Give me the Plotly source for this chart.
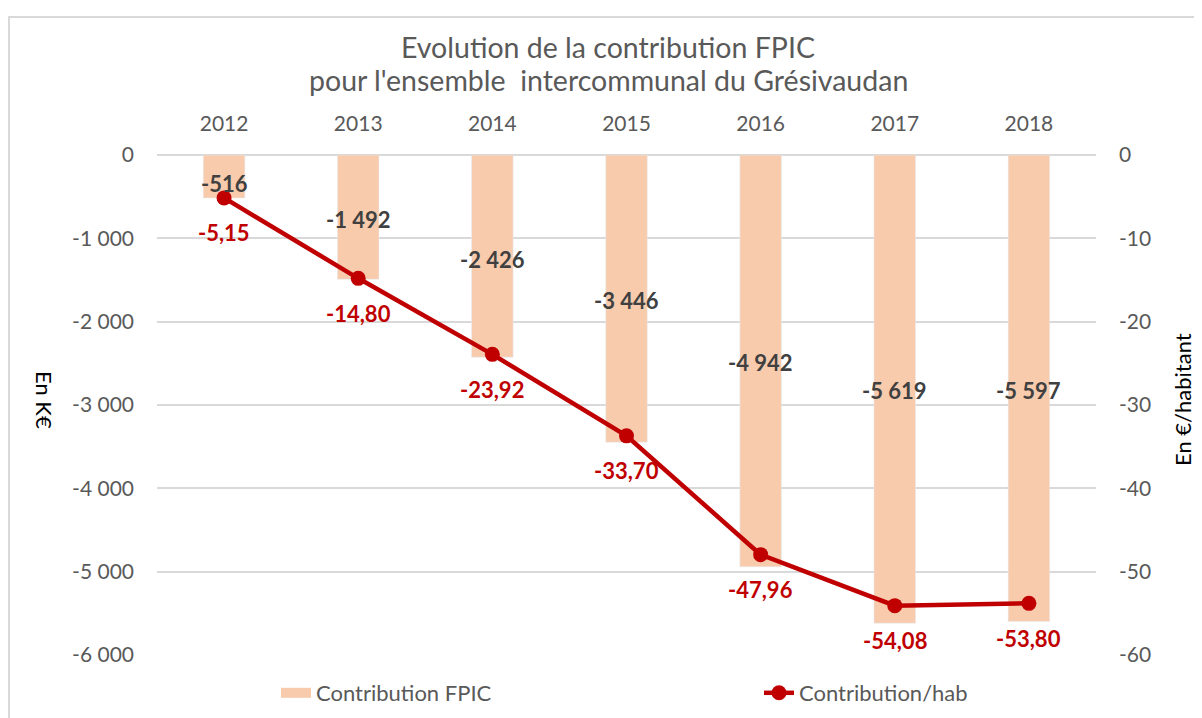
import plotly.graph_objects as go

years = ["2012", "2013", "2014", "2015", "2016", "2017", "2018"]
fpic_keur = [-516, -1492, -2426, -3446, -4942, -5619, -5597]
fpic_hab = [-5.15, -14.80, -23.92, -33.70, -47.96, -54.08, -53.80]

left_ticks = [0, -1000, -2000, -3000, -4000, -5000, -6000]
right_ticks = [0, -10, -20, -30, -40, -50, -60]

# where the bar value labels were dragged to in the original chart (K€ units)
bar_label_y = [-336, -768, -1248, -1740, -2484, -2820, -2820]

BAR_COLOR = "#F8CBAD"
LINE_COLOR = "#C00000"
TEXT_GREY = "#595959"
GRID = "#D9D9D9"
FONT = "Lato, 'Open Sans', sans-serif"

# the page body has an 8px margin, so the figure is shrunk by that much
OFF = 8
W, H = 1202 - OFF, 718 - OFF
# plot area in window pixels
L, R, T, B = 157, 1096, 155, 655


def px_x(x):
    return (x - L) / (R - L)


def px_y(y):
    return (B - y) / (B - T)


def fr_int(v):
    return f"{v:,}".replace(",", " ")


def fr_dec(v):
    return f"{v:.2f}".replace(".", ",")


fig = go.Figure()
fig.add_trace(go.Bar(x=years, y=fpic_keur, name="Contribution FPIC", marker_color=BAR_COLOR, width=0.31,
                     showlegend=False))
# legend-only stand-in so the key shows a wide block like the original
fig.add_trace(go.Scatter(x=[None], y=[None], mode="lines", name="Contribution FPIC",
                         line=dict(color=BAR_COLOR, width=14), legend="legend"))
fig.add_trace(
    go.Scatter(
        x=years,
        y=fpic_hab,
        name="Contribution/hab",
        yaxis="y2",
        mode="lines+markers",
        line=dict(color=LINE_COLOR, width=4.5),
        marker=dict(color=LINE_COLOR, size=15),
        legend="legend2",
    )
)

annotations = []
# category axis: numeric-looking strings would be read as indices, so use the index
for i, (v, ly) in enumerate(zip(fpic_keur, bar_label_y)):
    annotations.append(
        dict(x=i, y=ly, xref="x", yref="y", text=f"<b>{fr_int(v)}</b>", showarrow=False,
             font=dict(family=FONT, size=22, color="#404040"))
    )
for i, v in enumerate(fpic_hab):
    annotations.append(
        dict(x=i, y=v, xref="x", yref="y2", yshift=-35, text=f"<b>{fr_dec(v)}</b>", showarrow=False,
             font=dict(family=FONT, size=22, color=LINE_COLOR))
    )
title_lines = ["Evolution de la contribution FPIC", "pour l'ensemble\u00a0 intercommunal du Grésivaudan"]
for line, ty in zip(title_lines, [47, 80]):
    annotations.append(dict(text=line, x=px_x(608), y=px_y(ty), xref="paper", yref="paper", showarrow=False,
                            xanchor="center", yanchor="middle", font=dict(family=FONT, size=28.5, color=TEXT_GREY)))
annotations.append(dict(text="En K€", x=px_x(45), y=px_y(400), xref="paper", yref="paper", showarrow=False,
                        xanchor="center", yanchor="middle", textangle=90,
                        font=dict(family=FONT, size=22, color="black")))
annotations.append(dict(text="En €/habitant", x=px_x(1182), y=px_y(400), xref="paper", yref="paper",
                        showarrow=False, xanchor="center", yanchor="middle", textangle=-90,
                        font=dict(family=FONT, size=22, color="black")))

legend_style = dict(orientation="h", xref="container", yref="container", y=1 - (693 - OFF) / H,
                    xanchor="left", yanchor="middle", font=dict(size=22, color=TEXT_GREY), itemclick=False,
                    bgcolor="rgba(0,0,0,0)")

fig.update_layout(
    width=W,
    height=H,
    paper_bgcolor="white",
    plot_bgcolor="white",
    font=dict(family=FONT, size=20, color=TEXT_GREY),
    margin=dict(l=L - OFF, r=1202 - R, t=T - OFF, b=718 - B, autoexpand=False),
    xaxis=dict(type="category", side="top", showgrid=False, showline=False, ticks="",
               ticklabelstandoff=19, tickfont=dict(size=21, color=TEXT_GREY)),
    yaxis=dict(range=[-6000, 0], tickvals=left_ticks, ticktext=[fr_int(t) for t in left_ticks],
               showgrid=True, gridcolor=GRID, gridwidth=1.5, zeroline=True, zerolinecolor=GRID,
               zerolinewidth=1.5, showline=False, ticks="", ticklabelstandoff=22,
               tickfont=dict(size=21, color=TEXT_GREY)),
    yaxis2=dict(range=[-60, 0], overlaying="y", side="right", tickvals=right_ticks,
                ticktext=[str(t) for t in right_ticks], showgrid=False, zeroline=False, showline=False,
                ticks="", ticklabelstandoff=22, tickfont=dict(size=21, color=TEXT_GREY)),
    legend=dict(x=(276 - OFF) / W, **legend_style),
    legend2=dict(x=(759 - OFF) / W, **legend_style),
    annotations=annotations,
    shapes=[dict(type="rect", xref="paper", yref="paper", x0=px_x(9), x1=px_x(1215),
                 y0=px_y(730), y1=px_y(17), line=dict(color=GRID, width=2), layer="below")],
    showlegend=True,
)

fig.write_html("out.html")
